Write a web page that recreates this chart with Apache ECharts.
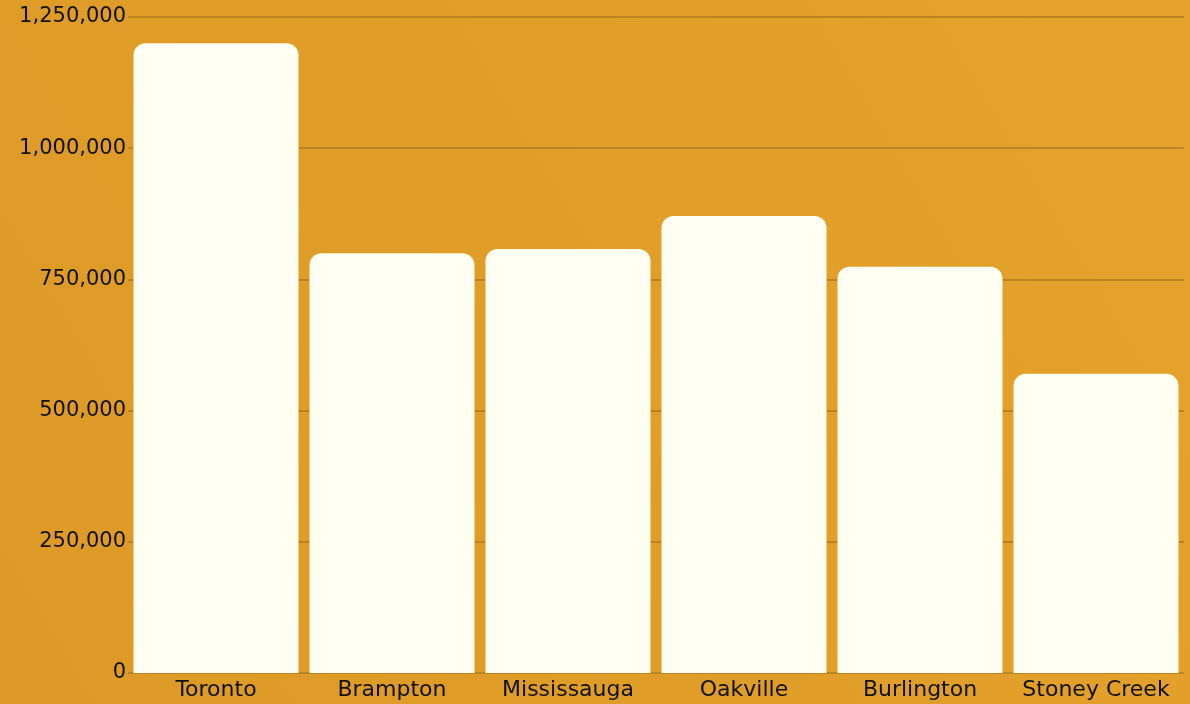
<!DOCTYPE html>
<html>
<head>
<meta charset="utf-8">
<script src="https://cdn.jsdelivr.net/npm/echarts@6/dist/echarts.min.js"></script>
<style>
  html, body { margin: 0; padding: 0; }
  #chart { width: 1190px; height: 704px; }
</style>
</head>
<body>
<div id="chart"></div>
<script>
const cities = ["Toronto", "Brampton", "Mississauga", "Oakville", "Burlington", "Stoney Creek"];
const prices = [1200000, 800000, 808000, 871000, 774000, 570000];
const yTicks = [0, 250000, 500000, 750000, 1000000, 1250000];

const chart = echarts.init(document.getElementById("chart"));

chart.setOption({
  backgroundColor: {
    type: "linear",
    x: 0, y: 1, x2: 1, y2: 0,
    colorStops: [
      { offset: 0, color: "#de9a26" },
      { offset: 0.5, color: "#e09d28" },
      { offset: 1, color: "#e5a22c" },
    ],
  },
  textStyle: { fontFamily: "DejaVu Sans" },
  grid: { left: 128, right: 6, top: 17, bottom: 31 },
  xAxis: {
    type: "category",
    data: cities,
    axisLine: { show: false },
    axisTick: { show: false },
    axisLabel: { color: "#111", fontSize: 22, margin: 6, interval: 0, hideOverlap: false },
  },
  yAxis: {
    type: "value",
    min: yTicks[0],
    max: yTicks[yTicks.length - 1],
    interval: 250000,
    axisLine: { show: false },
    axisTick: { show: false },
    axisLabel: {
      color: "#111",
      fontSize: 21,
      margin: 2,
      formatter: (v) => v.toLocaleString("en-US"),
    },
    splitLine: { lineStyle: { color: "#b07a1e", width: 1.5 } },
  },
  series: [
    {
      type: "bar",
      data: prices,
      barCategoryGap: "6.25%",
      itemStyle: { color: "#fffff2", borderRadius: [12, 12, 0, 0] },
    },
  ],
});
</script>
</body>
</html>
